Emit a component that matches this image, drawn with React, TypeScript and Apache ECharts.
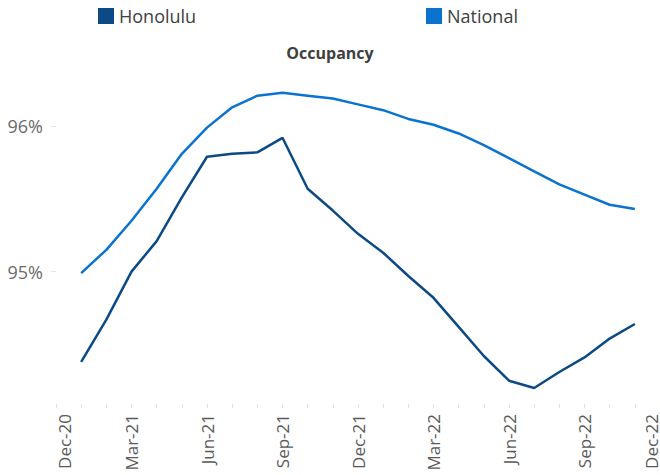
import React, { useEffect, useRef } from "react";
import * as echarts from "echarts";

const months = [
  "Dec-20", "Jan-21", "Feb-21", "Mar-21", "Apr-21", "May-21", "Jun-21", "Jul-21", "Aug-21",
  "Sep-21", "Oct-21", "Nov-21", "Dec-21", "Jan-22", "Feb-22", "Mar-22", "Apr-22", "May-22",
  "Jun-22", "Jul-22", "Aug-22", "Sep-22", "Oct-22", "Nov-22", "Dec-22",
];

// Jan-21 .. Nov-22 (no values at Dec-20 and Dec-22)
const honolulu = [
  94.38, 94.67, 95.0, 95.21, 95.51, 95.79, 95.81, 95.82, 95.92, 95.57, 95.42, 95.26,
  95.13, 94.97, 94.82, 94.62, 94.42, 94.25, 94.2, 94.31, 94.41, 94.54, 94.64,
];
const national = [
  94.99, 95.15, 95.35, 95.57, 95.81, 95.99, 96.13, 96.21, 96.23, 96.21, 96.19, 96.15,
  96.11, 96.05, 96.01, 95.95, 95.87, 95.78, 95.69, 95.6, 95.53, 95.46, 95.43,
];
const yTicks = [95, 96];

const FONT = "'Open Sans', 'Noto Sans', sans-serif";
const C_HON = "#0B4A85";
const C_NAT = "#0A73CF";

export default function App() {
  const ref = useRef<HTMLDivElement>(null);
  useEffect(() => {
    if (!ref.current) return;
    const chart = echarts.init(ref.current, undefined, { renderer: "svg" });
    const pad = (arr: number[]) => [null, ...arr, null];
    const catData = months.map((m, i) => {
      if (i === 0) return { value: m, textStyle: { verticalAlign: "top" } };
      if (i === months.length - 1) return { value: m, textStyle: { verticalAlign: "bottom" } };
      return m;
    });
    chart.setOption({
      animation: false,
      backgroundColor: "#ffffff",
      title: {
        text: "Occupancy",
        left: "center",
        top: 45,
        padding: 0,
        textStyle: { fontFamily: FONT, fontSize: 16, fontWeight: "bold", color: "#404040" },
      },
      legend: [
        {
          data: ["Honolulu"],
          left: 98,
          top: 7,
          padding: 0,
          icon: "rect",
          itemWidth: 16,
          itemHeight: 16,
          textStyle: { fontFamily: FONT, fontSize: 18, color: "#404040" },
        },
        {
          data: ["National"],
          left: 426,
          top: 7,
          padding: 0,
          icon: "rect",
          itemWidth: 16,
          itemHeight: 16,
          textStyle: { fontFamily: FONT, fontSize: 18, color: "#404040" },
        },
      ],
      grid: { left: 56, right: -3, top: 68, bottom: 71, containLabel: false },
      xAxis: {
        type: "category",
        boundaryGap: false,
        data: catData,
        axisLine: { show: false },
        axisTick: { show: true, interval: 0, length: 4, lineStyle: { color: "#e3e3e3" } },
        axisLabel: {
          interval: 2,
          rotate: 90,
          margin: 10,
          fontFamily: FONT,
          fontSize: 17,
          color: "#595959",
        },
        splitLine: { show: false },
      },
      yAxis: {
        type: "value",
        min: 94.09,
        max: 96.4,
        axisLine: { show: false },
        axisTick: { show: true, length: 5, customValues: yTicks, lineStyle: { color: "#e3e3e3" } },
        axisLabel: {
          customValues: yTicks,
          margin: 13,
          fontFamily: FONT,
          fontSize: 18,
          color: "#6b6b6b",
          formatter: (v: number) => Math.round(v) + "%",
        },
        splitLine: { show: false },
      },
      series: [
        {
          name: "Honolulu",
          type: "line",
          data: pad(honolulu),
          showSymbol: false,
          symbol: "none",
          lineStyle: { color: C_HON, width: 2.5 },
          itemStyle: { color: C_HON },
        },
        {
          name: "National",
          type: "line",
          data: pad(national),
          showSymbol: false,
          symbol: "none",
          lineStyle: { color: C_NAT, width: 2.5 },
          itemStyle: { color: C_NAT },
        },
      ],
    });
    return () => chart.dispose();
  }, []);
  return (
    <div
      ref={ref}
      style={{ position: "fixed", left: 0, top: 0, width: 660, height: 475, background: "#fff" }}
    />
  );
}
